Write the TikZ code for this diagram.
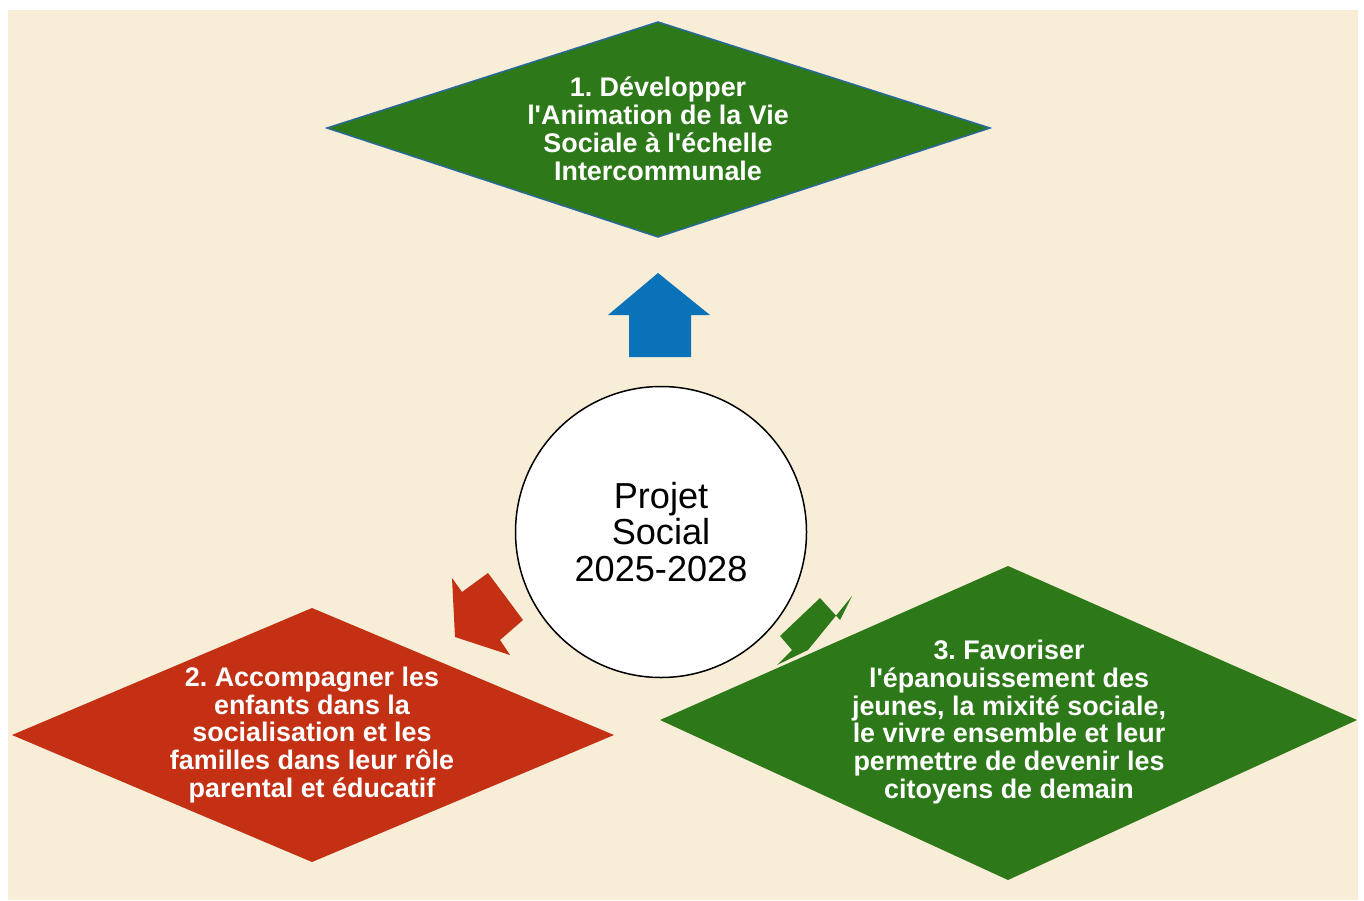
\documentclass[tikz,border=0pt]{standalone}
\usepackage{fontspec}
\setmainfont{Liberation Sans}[Ligatures=TeXOff]
\frenchspacing
\definecolor{bgbeige}{HTML}{F8EDD7}
\definecolor{dgreen}{HTML}{2D7819}
\definecolor{dred}{HTML}{C33014}
\definecolor{dblue}{HTML}{0A72B8}
\definecolor{edgeblue}{HTML}{2A6A9A}
\tikzset{
  goaltext/.style={text=white, font=\fontsize{27}{28}\selectfont\bfseries, align=center, inner sep=0pt},
  hubtext/.style={text=black, font=\fontsize{36.3}{37}\selectfont, align=center, inner sep=0pt},
  blockarrow/.style={draw=none},
}
\begin{document}
\begin{tikzpicture}[x=1bp,y=-1bp]
\useasboundingbox (0,0) rectangle (1364,900);
\fill[white] (0,0) rectangle (1364,900);
\fill[bgbeige] (8,10) rectangle (1358,900);
% goal 1 diamond
\filldraw[fill=dgreen, draw=edgeblue, line width=1.5bp] (327,128) -- (658,22) -- (990,128) -- (658,237) -- cycle;
\node[goaltext] (g1) at (658,129) {1. Développer\\l'Animation de la Vie\\Sociale à l'échelle\\Intercommunale};
% goal 2 diamond
\fill[dred] (12,735) -- (312,608) -- (614,735) -- (312,862) -- cycle;
\node[goaltext] (g2) at (312,735) {2. Accompagner les\\enfants dans la\\socialisation et les\\familles dans leur rôle\\parental et éducatif};
% goal 3 diamond
\fill[dgreen] (660,720) -- (1008,566) -- (1357,720) -- (1008,880) -- cycle;
\node[goaltext] (g3) at (1009,722) {3. Favoriser\\l'épanouissement des\\jeunes, la mixité sociale,\\le vivre ensemble et leur\\permettre de devenir les\\citoyens de demain};
% hub circle
\node[circle, draw=black, line width=1.5bp, fill=white, minimum size=291bp, inner sep=0pt] (hub) at (661,532) {};
\node[hubtext] (hubt) at (661,532) {Projet\\Social\\2025-2028};
% block arrows
\fill[dblue, blockarrow] (658,273) -- (710,315) -- (691,315) -- (691,357) -- (629,357) -- (629,315) -- (608,315) -- cycle;
\fill[dred, blockarrow] (488,573) -- (523,620) -- (500,640) -- (510,655) -- (455,637) -- (452,578) -- (462,592) -- cycle;
\fill[dgreen, blockarrow] (820,598) -- (840,620) -- (852,596) -- (808,650) -- (777,665) -- (792,650) -- (780,636) -- cycle;
\end{tikzpicture}
\end{document}
